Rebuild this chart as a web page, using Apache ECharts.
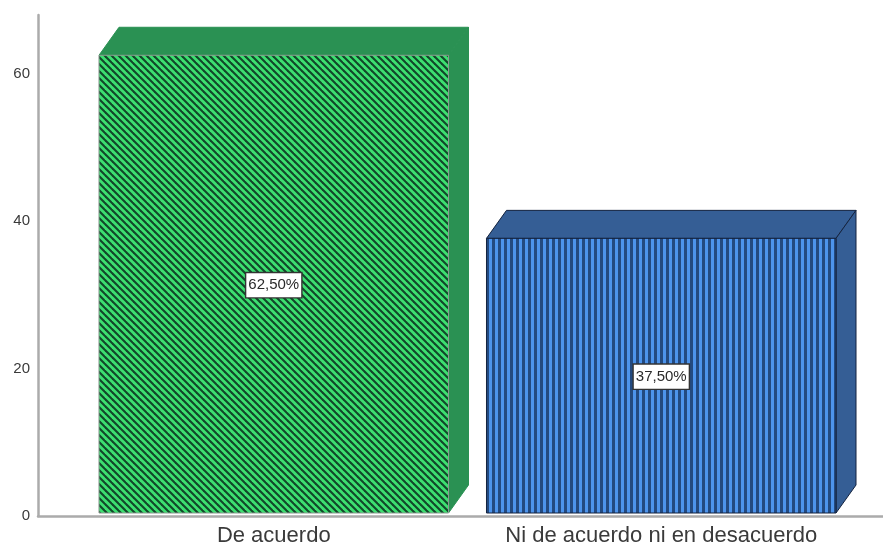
<!DOCTYPE html>
<html>
<head>
<meta charset="utf-8">
<style>html,body{margin:0;padding:0;background:#fff}#c{width:883px;height:547px}</style>
<script src="https://cdn.jsdelivr.net/npm/echarts@6/dist/echarts.min.js"></script>
</head>
<body>
<div id="c"></div>
<script>
const categories = ['De acuerdo', 'Ni de acuerdo ni en desacuerdo'];
const values = [62.5, 37.5];
const labels = ['62,50%', '37,50%'];
const FONT = '"Liberation Sans", Arial, sans-serif';

function tile(size, light, dark, draw) {
  const c = document.createElement('canvas');
  c.width = c.height = size;
  const x = c.getContext('2d');
  x.fillStyle = light; x.fillRect(0, 0, size, size);
  x.strokeStyle = dark; x.fillStyle = dark;
  draw(x, size);
  return c;
}
const greenTile = tile(7, '#3ddf70', '#12472a', (x, s) => {
  x.lineWidth = 2.1;
  for (let i = -s; i <= s; i += s) {
    x.beginPath(); x.moveTo(i - 1, -1); x.lineTo(i + s + 1, s + 1); x.stroke();
  }
});
const blueTile = tile(6, '#4d94ec', '#234a80', (x) => { x.fillRect(0, 0, 3, 6); });

const looks = [
  { pattern: greenTile, side: '#2a9153', edge: '#8a9a90', sideEdge: '#2a9153' },
  { pattern: blueTile, side: '#355e95', edge: '#14233f', sideEdge: '#14233f' }
];
const DX = 20, DY = 28;

function renderItem(params, api) {
  const i = api.value(0);
  const top = api.coord([i, api.value(1)]);
  const base = api.coord([i, 0]);
  const w = api.size([1, 0])[0] * 0.902;
  const l = top[0] - w / 2, r = top[0] + w / 2, t = top[1], b = base[1];
  const look = looks[i];
  const line = { stroke: look.sideEdge, lineWidth: 1 };
  const cx = top[0], cy = (t + b) / 2;
  return {
    type: 'group',
    children: [
      { type: 'polygon', shape: { points: [[l, t], [l + DX, t - DY], [r + DX, t - DY], [r, t]] },
        style: Object.assign({ fill: look.side }, line) },
      { type: 'polygon', shape: { points: [[r, t], [r + DX, t - DY], [r + DX, b - DY], [r, b]] },
        style: Object.assign({ fill: look.side }, line) },
      { type: 'rect', shape: { x: l, y: t, width: r - l, height: b - t },
        style: { fill: { image: look.pattern, repeat: 'repeat' }, stroke: look.edge, lineWidth: 1 } },
      { type: 'text', x: cx, y: cy + 1, z2: 10,
        style: {
          text: labels[i], font: '15px ' + FONT, fill: '#2a2a2a', align: 'center', verticalAlign: 'middle',
          backgroundColor: '#fff', borderColor: '#333', borderWidth: 1.4,
          padding: [5, 2, 4, 2]
        } }
    ]
  };
}

const AXIS = { color: '#ababab', width: 2.5 };
const chart = echarts.init(document.getElementById('c'), null, { renderer: 'canvas' });
chart.setOption({
  animation: false,
  backgroundColor: '#fff',
  grid: [
    { left: 38, right: 0, top: 15, bottom: 31 },
    { left: 80, width: 775, top: 15, bottom: 31 }
  ],
  xAxis: [
    { gridIndex: 0, type: 'category', data: [''], axisLine: { lineStyle: AXIS },
      axisTick: { show: false }, axisLabel: { show: false }, splitLine: { show: false } },
    { gridIndex: 1, type: 'category', data: categories, axisLine: { show: false },
      axisTick: { show: false }, splitLine: { show: false },
      axisLabel: { fontFamily: FONT, fontSize: 22, color: '#3a3a3a', margin: 12,
        interval: 0, hideOverlap: false, showMinLabel: true, showMaxLabel: true, width: 387, overflow: 'none' } }
  ],
  yAxis: [
    { gridIndex: 0, type: 'value', min: 0, max: 68, interval: 20,
      axisLine: { show: true, lineStyle: AXIS }, axisTick: { show: false }, splitLine: { show: false },
      axisLabel: { fontFamily: FONT, fontSize: 15, color: '#3a3a3a', margin: 8,
        showMaxLabel: false } },
    { gridIndex: 1, type: 'value', min: 0, max: 68, interval: 20, show: false }
  ],
  series: [{
    type: 'custom',
    xAxisIndex: 1, yAxisIndex: 1,
    clip: false,
    renderItem,
    encode: { x: 0, y: 1 },
    data: values.map((v, i) => [i, v])
  }]
});
</script>
</body>
</html>
